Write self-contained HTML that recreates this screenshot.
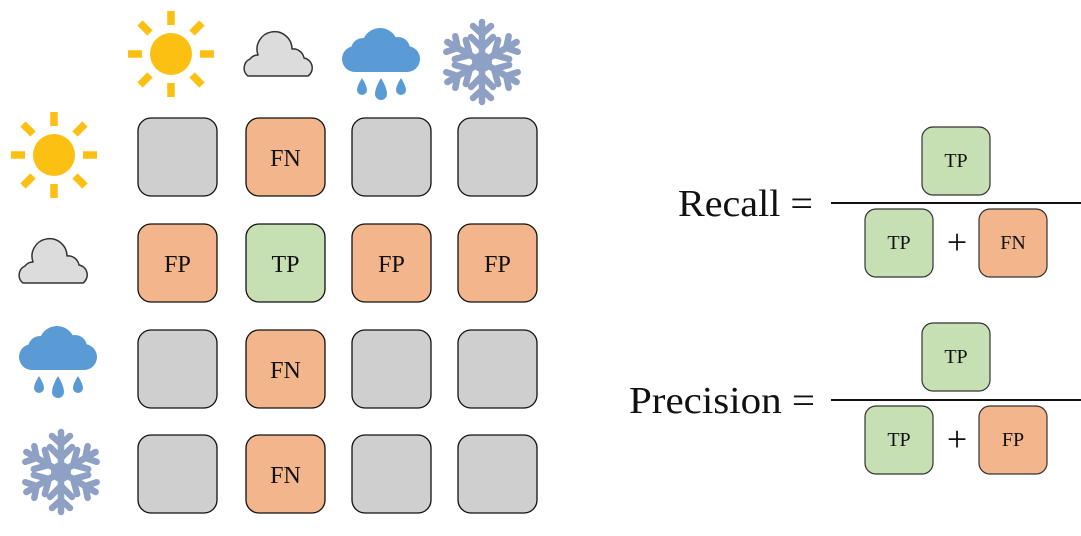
<!DOCTYPE html>
<html><head><meta charset="utf-8"><style>
html,body{margin:0;padding:0;background:#fff;}
svg{display:block;}
text{font-family:"Liberation Serif","DejaVu Serif",serif;fill:#111;}
</style></head><body>
<svg id="s" width="1081" height="536" viewBox="0 0 1081 536" xmlns="http://www.w3.org/2000/svg">
<defs>
<g id="sun">
<circle r="21" fill="#fbc012"/>
<g stroke="#fbc012" stroke-width="7.5">
<line x1="0" y1="-29" x2="0" y2="-43"/><line x1="0" y1="29" x2="0" y2="43"/>
<line x1="-29" y1="0" x2="-43" y2="0"/><line x1="29" y1="0" x2="43" y2="0"/>
<line x1="21" y1="-21" x2="31" y2="-31"/><line x1="-21" y1="-21" x2="-31" y2="-31"/>
<line x1="21" y1="21" x2="31" y2="31"/><line x1="-21" y1="21" x2="-31" y2="31"/>
</g></g>
<g id="cloud">
<path d="M-30,21 A10,10 0 0 1 -28,4 A10,10 0 0 1 -20,0 A17.5,17.5 0 1 1 14,-6 A11,11 0 0 1 26,3 A10,10 0 0 1 30,21 Z" fill="#dcdcdc" stroke="#333" stroke-width="1.5" stroke-linejoin="round"/>
</g>
<g id="rain" fill="#5b9bd5">
<rect x="-26" y="0" width="52" height="22"/>
<circle cx="-26" cy="9" r="13"/>
<circle cx="26" cy="9" r="13"/>
<circle cx="-1" cy="-4" r="18"/>
<circle cx="-18" cy="0" r="12"/>
<circle cx="17" cy="-1" r="12"/>
<path d="M-19,28 Q-14,36 -14,40 A5,5 0 0 1 -24,40 Q-24,36 -19,28 Z"/>
<path d="M0,28 Q6,38 6,44 A6,6 0 0 1 -6,44 Q-6,38 0,28 Z"/>
<path d="M20,28 Q25,36 25,40 A5,5 0 0 1 15,40 Q15,36 20,28 Z"/>
</g>
<g id="arm" stroke="#8ea0c4" stroke-width="6.5" stroke-linecap="round" fill="none">
<line x1="0" y1="0" x2="0" y2="-40"/>
<polyline points="-11,-25 0,-14 11,-25"/>
<polyline points="-9,-36 0,-28 9,-36"/>
</g>
<g id="snow">
<use href="#arm"/><use href="#arm" transform="rotate(60)"/><use href="#arm" transform="rotate(120)"/>
<use href="#arm" transform="rotate(180)"/><use href="#arm" transform="rotate(240)"/><use href="#arm" transform="rotate(300)"/>
<circle r="10" fill="#8ea0c4"/>
</g>
</defs>

<g><use href="#sun" transform="translate(171,54)"/></g>
<g><use href="#cloud" transform="translate(278,55)"/></g>
<g><use href="#rain" transform="translate(381,50)"/></g>
<g><use href="#snow" transform="translate(482,62)"/></g>

<g><use href="#sun" transform="translate(54,155)"/></g>
<g><use href="#cloud" transform="translate(53,262)"/></g>
<g><use href="#rain" transform="translate(58,348)"/></g>
<g><use href="#snow" transform="translate(61,472)"/></g>

<g id="grid"></g>

<g>
<text x="678" y="216" font-size="38" textLength="135" lengthAdjust="spacingAndGlyphs">Recall =</text>
<line x1="831" y1="203" x2="1081" y2="203" stroke="#111" stroke-width="2"/>
<rect x="922" y="127" width="68" height="68" rx="11" fill="#c6e0b4" stroke="#333" stroke-width="1.2"/>
<text x="956" y="167" font-size="20" text-anchor="middle">TP</text>
<rect x="865" y="209" width="68" height="68" rx="11" fill="#c6e0b4" stroke="#333" stroke-width="1.2"/>
<text x="899" y="249" font-size="20" text-anchor="middle">TP</text>
<text x="957" y="254" font-size="36" text-anchor="middle">+</text>
<rect x="979" y="209" width="68" height="68" rx="11" fill="#f3b58b" stroke="#333" stroke-width="1.2"/>
<text x="1013" y="249" font-size="20" text-anchor="middle">FN</text>
</g>

<g>
<text x="629" y="413" font-size="38" textLength="186" lengthAdjust="spacingAndGlyphs">Precision =</text>
<line x1="831" y1="400" x2="1081" y2="400" stroke="#111" stroke-width="2"/>
<rect x="922" y="323" width="68" height="68" rx="11" fill="#c6e0b4" stroke="#333" stroke-width="1.2"/>
<text x="956" y="363" font-size="20" text-anchor="middle">TP</text>
<rect x="865" y="406" width="68" height="68" rx="11" fill="#c6e0b4" stroke="#333" stroke-width="1.2"/>
<text x="899" y="446" font-size="20" text-anchor="middle">TP</text>
<text x="957" y="451" font-size="36" text-anchor="middle">+</text>
<rect x="979" y="406" width="68" height="68" rx="11" fill="#f3b58b" stroke="#333" stroke-width="1.2"/>
<text x="1013" y="446" font-size="20" text-anchor="middle">FP</text>
</g>
</svg>
<script>
const categories = ["sun","cloud","rain","snow"];
const cellLabels = [
 ["","FN","",""],
 ["FP","TP","FP","FP"],
 ["","FN","",""],
 ["","FN","",""]
];
const colX = [138,246,352,458];
const rowY = [118,224,330,435];
const fills = {"":"#d0cfcf","FN":"#f3b58b","FP":"#f3b58b","TP":"#c6e0b4"};
const NS = "http://www.w3.org/2000/svg";
const g = document.getElementById("grid");
cellLabels.forEach((row,r)=>row.forEach((lab,c)=>{
  const rect = document.createElementNS(NS,"rect");
  rect.setAttribute("x",colX[c]); rect.setAttribute("y",rowY[r]);
  rect.setAttribute("width",79); rect.setAttribute("height",78);
  rect.setAttribute("rx",13);
  rect.setAttribute("fill",fills[lab]);
  rect.setAttribute("stroke","#111"); rect.setAttribute("stroke-width","1.3");
  
  
  g.appendChild(rect);
  if(lab){
    const t = document.createElementNS(NS,"text");
    t.setAttribute("x",colX[c]+39.5); t.setAttribute("y",rowY[r]+48);
    t.setAttribute("font-size","24"); t.setAttribute("text-anchor","middle");
    t.textContent = lab;
    
    
    g.appendChild(t);
  }
}));
</script>
</body></html>
